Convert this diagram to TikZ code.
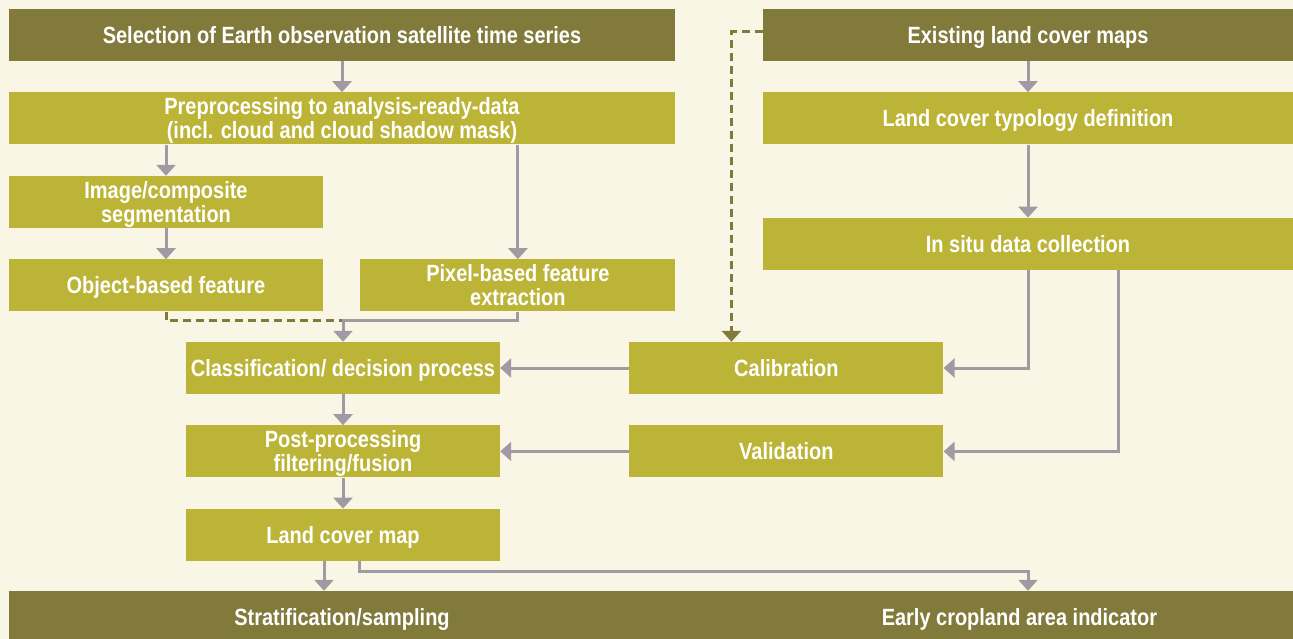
\documentclass[tikz,border=0pt]{standalone}
\usepackage{fontspec}
\setmainfont{Liberation Sans}[FakeStretch=0.85]
\usetikzlibrary{arrows.meta,positioning}
\definecolor{bgcream}{HTML}{FAF6E6}
\definecolor{olivedark}{HTML}{817A3B}
\definecolor{olivelight}{HTML}{BCB436}
\definecolor{arrowgray}{HTML}{A29AA2}
\tikzset{
  head/.style={fill=olivedark, text=white, inner sep=0pt, minimum height=52pt, text depth=0pt, align=center, font=\bfseries\fontsize{23.5}{24}\selectfont},
  stage/.style={fill=olivelight, text=white, inner sep=0pt, minimum height=52pt, text depth=0pt, align=center, font=\bfseries\fontsize{23.5}{24}\selectfont},
  line/.style={-{Triangle[width=19pt,length=11pt]}, line width=3pt, draw=arrowgray},
  dashedline/.style={line width=3pt, draw=olivedark, dash pattern=on 8pt off 5pt}
}

\begin{document}
\begin{tikzpicture}[x=1pt, y=-1pt, node distance=31pt and 37pt]
  \useasboundingbox (0,0) rectangle (1293,639);
  \fill[bgcream] (0,0) rectangle (1293,639);

  % processing chain on the left
  \node[head, minimum width=666pt] (select) at (342,35) {Selection of Earth observation satellite time series};
  \node[stage, minimum width=666pt, below=of select] (prep) {Preprocessing to analysis-ready-data\\(incl. cloud and cloud shadow mask)};
  \node[stage, minimum width=314pt] (segm) at (166,202) {Image/composite\\segmentation};
  \node[stage, minimum width=314pt, below=of segm] (objfeat) {Object-based feature};
  \node[stage, minimum width=315pt, right=of objfeat] (pixfeat) {Pixel-based feature\\extraction};
  \node[stage, minimum width=314pt] (classif) at (343,368) {Classification/ decision process};
  \node[stage, minimum width=314pt, below=of classif] (postproc) {Post-processing\\filtering/fusion};
  \node[stage, minimum width=314pt, below=of postproc] (lcmap) {Land cover map};

  % reference data on the right
  \node[head, minimum width=530pt] (exist) at (1028,35) {Existing land cover maps};
  \node[stage, minimum width=530pt, below=of exist] (typo) {Land cover typology definition};
  \node[stage, minimum width=530pt, below=73pt of typo] (insitu) {In situ data collection};
  \node[stage, minimum width=314pt, right=129pt of classif] (calib) {Calibration};
  \node[stage, minimum width=314pt, below=of calib] (valid) {Validation};

  % outputs
  \node[head, minimum width=666pt] (strat) at (342,617) {Stratification/sampling};
  \node[head, minimum width=688pt, right=0pt of strat] (early) {Early cropland area indicator};

  \coordinate (merge) at ([yshift=21pt]classif.north);
  \coordinate (lcleft) at ([xshift=-19pt]lcmap.south);
  \coordinate (lcright) at ([xshift=16pt]lcmap.south);

  \draw[line] (select) -- (prep);
  \draw[line] (segm.north |- prep.south) -- (segm);
  \draw[line] (pixfeat.north |- prep.south) -- (pixfeat);
  \draw[line] (segm) -- (objfeat);
  \draw[dashedline] (objfeat.south) |- (merge);
  \draw[line] (pixfeat.south) |- (merge) -- (classif);
  \draw[line] (classif) -- (postproc);
  \draw[line] (postproc) -- (lcmap);
  \draw[line] (calib) -- (classif);
  \draw[line] (valid) -- (postproc);

  \draw[line] (exist) -- (typo);
  \draw[line] (typo) -- (insitu);
  \draw[line] (insitu.south) |- (calib.east);
  \draw[line] ([xshift=90pt]insitu.south) |- (valid.east);
  \draw[dashedline, -{Triangle[width=19pt,length=11pt]}] ([yshift=3pt]exist.west) -| ([xshift=-55pt]calib.north);

  \draw[line] (lcleft) -- (lcleft |- strat.north);
  \draw[line] (lcright) -- ++(0,10) -| (early.north -| exist.south);
\end{tikzpicture}
\end{document}
